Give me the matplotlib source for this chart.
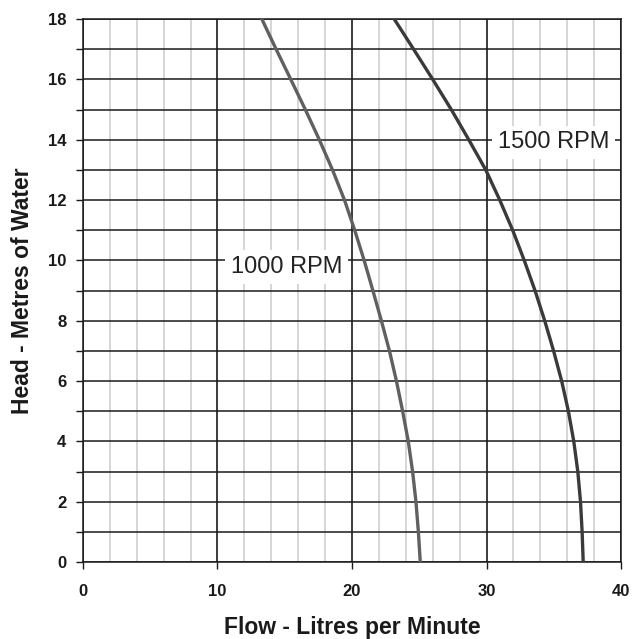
import matplotlib.pyplot as plt
from matplotlib.ticker import MultipleLocator

plt.rcParams["font.family"] = ["Liberation Sans", "DejaVu Sans"]

# Head (m) read at every whole metre, flow (L/min)
head = [18, 17, 16, 15, 14, 13, 12, 11, 10, 9, 8, 7, 6, 5, 4, 3, 2, 1, 0]
flow_1000 = [13.30, 14.36, 15.45, 16.53, 17.57, 18.55, 19.44, 20.20, 20.90, 21.55,
             22.18, 22.78, 23.30, 23.76, 24.18, 24.50, 24.75, 24.93, 25.07]
flow_1500 = [23.14, 24.58, 26.00, 27.38, 28.68, 29.94, 30.98, 31.94, 32.80, 33.60,
             34.32, 34.98, 35.58, 36.08, 36.48, 36.78, 36.98, 37.10, 37.18]

x_ticks = [0, 10, 20, 30, 40]
y_ticks = [0, 2, 4, 6, 8, 10, 12, 14, 16, 18]

fig = plt.figure(figsize=(6.43, 6.39), dpi=100)
ax = fig.add_axes([0.129, 0.1205, 0.837, 0.8495])

ax.set_xlim(0, 40)
ax.set_ylim(0, 18)
ax.set_xticks(x_ticks)
ax.set_yticks(y_ticks)
ax.xaxis.set_minor_locator(MultipleLocator(2))
ax.yaxis.set_minor_locator(MultipleLocator(1))

# grid: light minor verticals, dark majors, dark horizontals every metre
ax.grid(True, which="minor", axis="x", color="#cfcfcf", lw=1.2)
ax.grid(True, which="major", axis="x", color="#1a1a1a", lw=1.2)
ax.grid(True, which="both", axis="y", color="#1a1a1a", lw=1.1)
ax.set_axisbelow(True)

ax.tick_params(axis="x", which="major", direction="out", length=5, width=1, color="#1a1a1a")
ax.tick_params(axis="x", which="minor", length=0)
ax.tick_params(axis="y", which="both", direction="out", length=5, width=1, color="#1a1a1a")
ax.tick_params(axis="both", which="major", labelsize=12, labelcolor="#1a1a1a")
ax.tick_params(axis="x", pad=11)
ax.tick_params(axis="y", pad=7)
for lab in ax.get_xticklabels() + ax.get_yticklabels():
    lab.set_fontweight("bold")

for s in ax.spines.values():
    s.set_color("#1a1a1a")
    s.set_linewidth(1.1)

ax.plot(flow_1000, head, color="#606060", lw=2.4, zorder=3)
ax.plot(flow_1500, head, color="#3a3a3a", lw=2.4, zorder=3)

box = dict(facecolor="white", edgecolor="none", pad=4)
ax.text(15.14, 9.58, "1000 RPM", fontsize=17, color="#222222", ha="center", va="baseline",
        bbox=box, zorder=4)
ax.text(34.97, 13.72, "1500 RPM", fontsize=17, color="#222222", ha="center", va="baseline",
        bbox=box, zorder=4)

ax.set_xlabel("Flow - Litres per Minute", fontsize=16.5, fontweight="bold", color="#1a1a1a", labelpad=12)
ax.set_ylabel("Head - Metres of Water", fontsize=16.5, fontweight="bold", color="#1a1a1a", labelpad=10)

fig.savefig("out.png", dpi=100)
